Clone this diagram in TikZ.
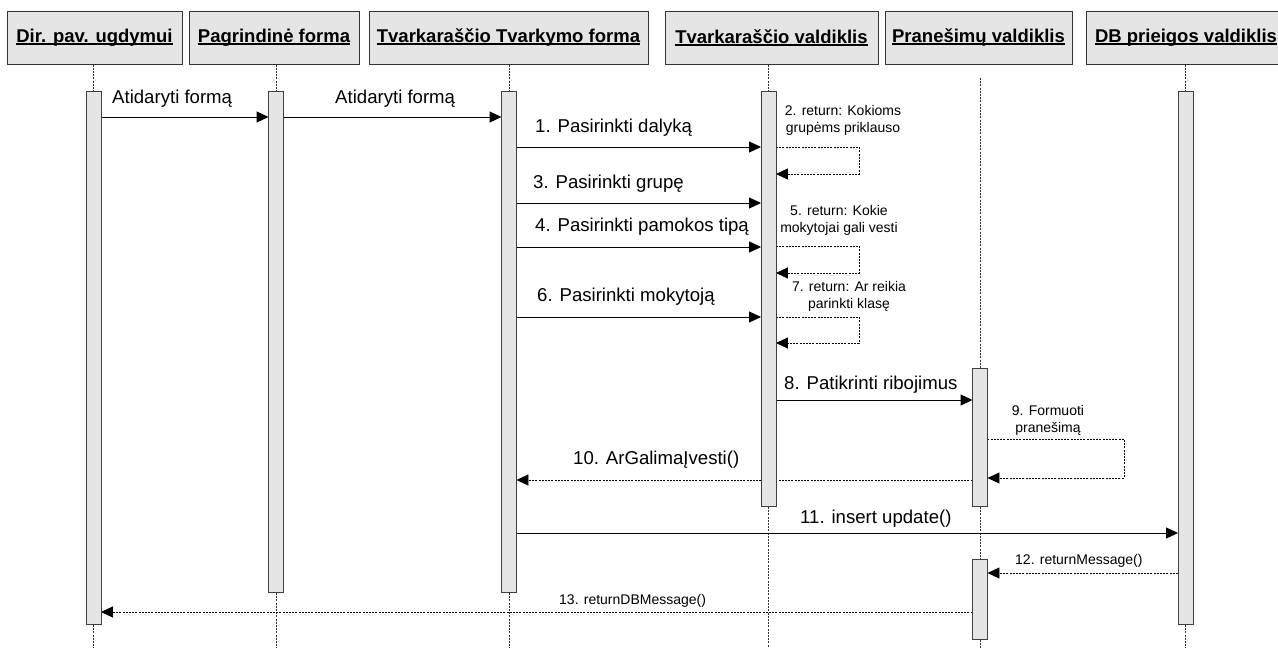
\documentclass[tikz,border=0pt]{standalone}
\usepackage{fontspec}
\setmainfont{Liberation Sans}
\usetikzlibrary{arrows.meta}

% underlined header text: rule sits just under the baseline
\newcommand\ulin[1]{\setbox0=\hbox{#1}\hbox{\rlap{\rule[-2.4pt]{\wd0}{1.4pt}}\box0}}

\tikzset{
  hdr/.style={draw=black!80, fill=black!10, line width=1pt, minimum height=53pt,
              inner sep=0pt, font=\bfseries\fontsize{18.5}{20}\selectfont},
  actbar/.style={draw=black!75, fill=black!10, line width=0.9pt, minimum width=14pt,
                 inner sep=0pt, anchor=north},
  life/.style={draw=black!80, line width=0.8pt, dash pattern=on 2pt off 1.2pt},
  msg/.style={line width=1pt, -{Triangle[length=12pt,width=11pt]}},
  ret/.style={line width=0.8pt, dash pattern=on 2pt off 1.2pt,
              -{Triangle[length=12pt,width=11pt]}},
  big/.style={font=\fontsize{18.6}{21}\selectfont, inner sep=0pt},
  small/.style={font=\fontsize{14}{17}\selectfont, inner sep=0pt, align=center},
}

\begin{document}
\begin{tikzpicture}[x=1pt,y=-1pt]
\useasboundingbox (0,0) rectangle (1278,648);

% object headers
\node[hdr, minimum width=175pt] (h1) at (94.5,37.5)  {\ulin{Dir. pav. ugdymui}};
\node[hdr, minimum width=170pt] (h2) at (274,37.5)   {\ulin{Pagrindinė forma}};
\node[hdr, minimum width=279pt] (h3) at (508.5,37.5) {\ulin{Tvarkaraščio Tvarkymo forma}};
\node[hdr, minimum width=213pt] (h4) at (771.5,37.5) {\ulin{Tvarkaraščio valdiklis}};
\node[hdr, minimum width=187pt] (h5) at (978.5,37.5) {\ulin{Pranešimų valdiklis}};
\node[hdr, minimum width=200pt] (h6) at (1186,37.5)  {\ulin{DB prieigos valdiklis}};

% activation bars (positions only, drawn on top later)
\path
  (93.5,91)  node[actbar, minimum height=533pt, draw=none, fill=none] (b1) {}
  (276,91)   node[actbar, minimum height=501pt, draw=none, fill=none] (b2) {}
  (509,91)   node[actbar, minimum height=501pt, draw=none, fill=none] (b3) {}
  (768.5,91) node[actbar, minimum height=415pt, draw=none, fill=none] (b4) {}
  (980,368)  node[actbar, minimum height=138pt, draw=none, fill=none] (b5a) {}
  (980,559)  node[actbar, minimum height=80pt,  draw=none, fill=none] (b5b) {}
  (1185.5,91) node[actbar, minimum height=533pt, draw=none, fill=none] (b6) {};

% lifelines
\draw[life] (b1.north |- h1.south) -- (b1.north) (b1.south) -- (b1.south |- 0,648);
\draw[life] (b2.north |- h2.south) -- (b2.north) (b2.south) -- (b2.south |- 0,648);
\draw[life] (b3.north |- h3.south) -- (b3.north) (b3.south) -- (b3.south |- 0,648);
\draw[life] (b4.north |- h4.south) -- (b4.north) (b4.south) -- (b4.south |- 0,648);
\draw[life] (b5a.north |- 0,78) -- (b5a.north) (b5a.south) -- (b5b.north)
            (b5b.south) -- (b5b.south |- 0,648);
\draw[life] (b6.north |- h6.south) -- (b6.north) (b6.south) -- (b6.south |- 0,648);

% messages
\draw[msg] (b1.east |- 0,117) -- (b2.west |- 0,117);
\draw[msg] (b2.east |- 0,117) -- (b3.west |- 0,117);
\draw[msg] (b3.east |- 0,147) -- (b4.west |- 0,147);
\draw[ret] (b4.east |- 0,147) -| (859,174) -- (b4.east |- 0,174);
\draw[msg] (b3.east |- 0,203) -- (b4.west |- 0,203);
\draw[msg] (b3.east |- 0,247) -- (b4.west |- 0,247);
\draw[ret] (b4.east |- 0,246) -| (859,273) -- (b4.east |- 0,273);
\draw[msg] (b3.east |- 0,317) -- (b4.west |- 0,317);
\draw[ret] (b4.east |- 0,317) -| (859,343) -- (b4.east |- 0,343);
\draw[msg] (b4.east |- 0,400) -- (b5a.west |- 0,400);
\draw[ret] (b5a.east |- 0,439) -| (1124,478) -- (b5a.east |- 0,478);
\draw[ret] (b5a.west |- 0,480) -- (b3.east |- 0,480);
\draw[msg] (b3.east |- 0,533) -- (b6.west |- 0,533);
\draw[ret] (b6.west |- 0,573) -- (b5b.east |- 0,573);
\draw[ret] (b5b.west |- 0,612) -- (b1.east |- 0,612);

% activation bars
\foreach \b in {b1,b2,b3,b4,b5a,b5b,b6}
  \draw[draw=black!75, fill=black!10, line width=0.9pt]
    (\b.north west) rectangle (\b.south east);

% message labels
\node[big, anchor=base west] (t0a) at (112,103.5) {Atidaryti formą};
\node[big, anchor=base west] (t0b) at (335,103.5) {Atidaryti formą};
\node[big, anchor=base west] (t1)  at (535,132.5) {1. Pasirinkti dalyką};
\node[small] (t2) at (843,120.5) {2. return: Kokioms\\grupėms priklauso};
\node[big, anchor=base west] (t3)  at (533,188.5) {3. Pasirinkti grupę};
\node[big, anchor=base west] (t4)  at (535,231.5) {4. Pasirinkti pamokos tipą};
\node[small] (t5) at (839,220) {5. return: Kokie\\mokytojai gali vesti};
\node[big, anchor=base west] (t6)  at (537,301.5) {6. Pasirinkti mokytoją};
\node[small] (t7) at (849,296.5) {7. return: Ar reikia\\parinkti klasę};
\node[big, anchor=base west] (t8)  at (784,389.5) {8. Patikrinti ribojimus};
\node[small] (t9) at (1048,420) {9. Formuoti\\pranešimą};
\node[big, anchor=base west] (t10) at (573,464.5) {10. ArGalimaĮvesti()};
\node[big, anchor=base west] (t11) at (800,523.5) {11. insert update()};
\node[small, anchor=base west] (t12) at (1015,564) {12. returnMessage()};
\node[small, anchor=base west] (t13) at (559,604) {13. returnDBMessage()};
\end{tikzpicture}
\end{document}
